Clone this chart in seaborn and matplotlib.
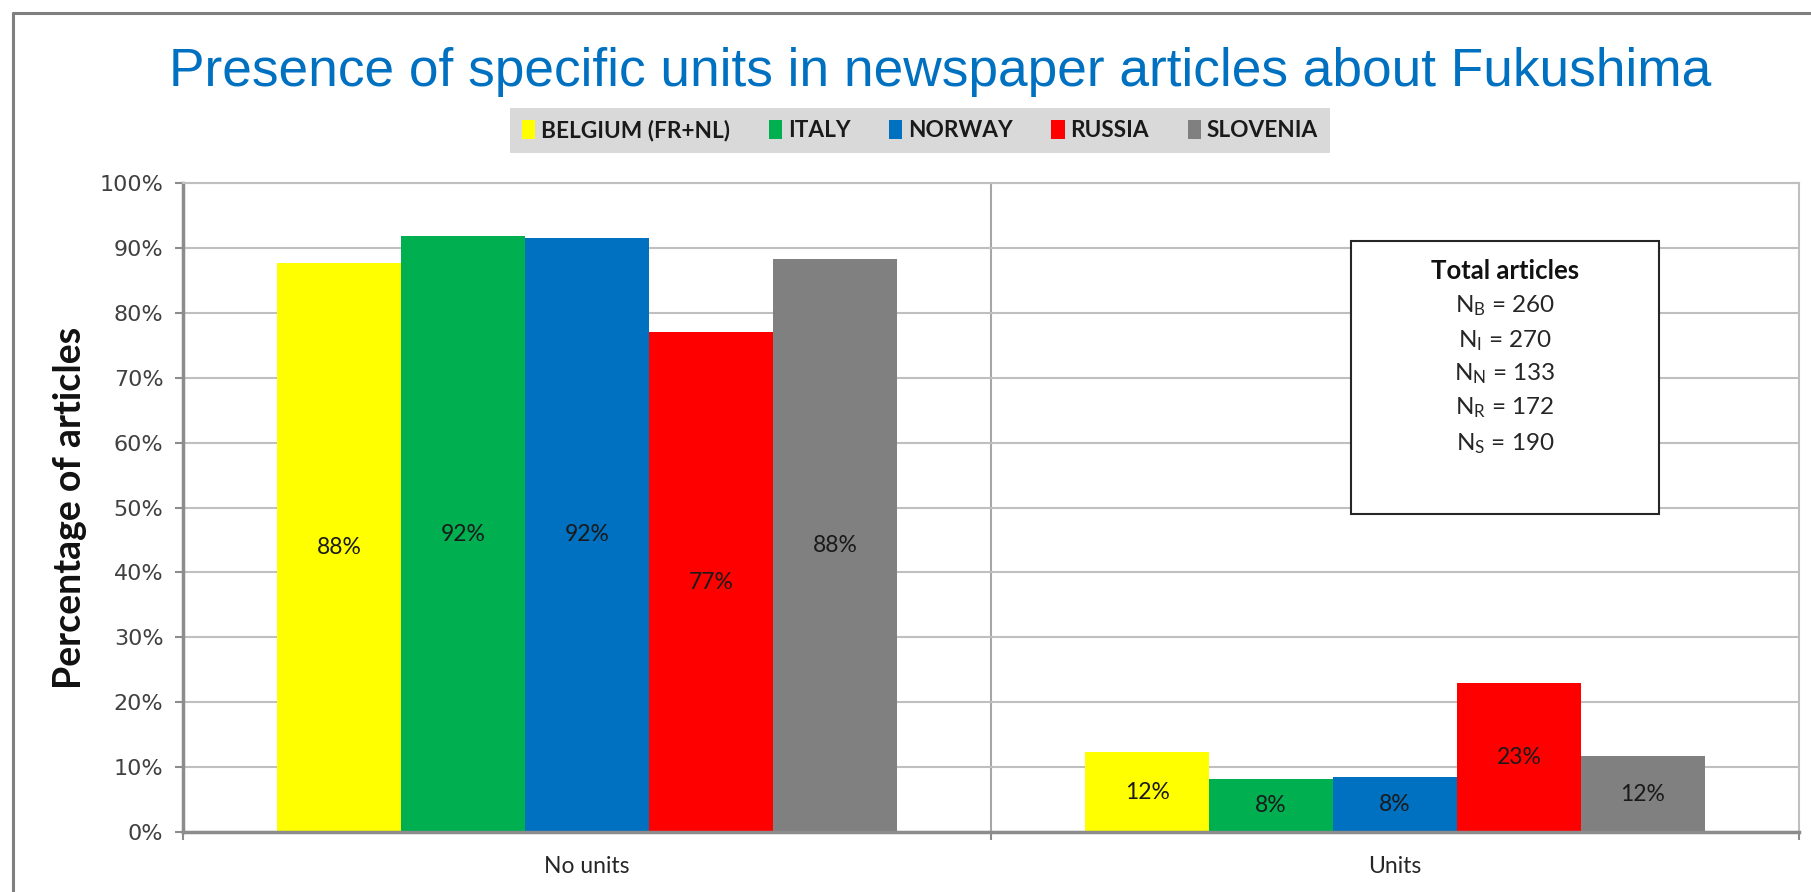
import matplotlib
matplotlib.use('Agg')
import matplotlib.pyplot as plt
import seaborn as sns
import pandas as pd
from matplotlib.patches import Patch, Rectangle
from matplotlib.lines import Line2D

# ---------------- data ----------------
categories = ['No units', 'Units']
countries = ['BELGIUM (FR+NL)', 'ITALY', 'NORWAY', 'RUSSIA', 'SLOVENIA']
no_units = [87.7, 91.8, 91.6, 77.0, 88.3]
units = [12.3, 8.2, 8.4, 23.0, 11.7]
labels_no_units = ['88%', '92%', '92%', '77%', '88%']
labels_units = ['12%', '8%', '8%', '23%', '12%']
colors = ['#ffff00', '#00b050', '#0070c0', '#ff0000', '#808080']
yticks = [0, 10, 20, 30, 40, 50, 60, 70, 80, 90, 100]
ytick_labels = ['0%', '10%', '20%', '30%', '40%', '50%', '60%', '70%', '80%', '90%', '100%']
total_keys = ['B', 'I', 'N', 'R', 'S']
total_values = [260, 270, 133, 172, 190]
title = 'Presence of specific units in newspaper articles about Fukushima'
ylabel = 'Percentage of articles'
box_title = 'Total articles'

rows = []
for i, c in enumerate(countries):
    rows.append({'category': categories[0], 'country': c, 'value': no_units[i]})
    rows.append({'category': categories[1], 'country': c, 'value': units[i]})
df = pd.DataFrame(rows)

# ---------------- style ----------------
sns.set_theme(style='white')
plt.rcParams['font.family'] = ['Lato', 'DejaVu Sans']
plt.rcParams['mathtext.fontset'] = 'custom'
plt.rcParams['mathtext.rm'] = 'Lato'
plt.rcParams['mathtext.it'] = 'Lato'

fig = plt.figure(figsize=(18.11, 8.92), dpi=100)
ax = fig.add_axes([0.1010, 0.0673, 0.8924, 0.7275])

sns.barplot(data=df, x='category', y='value', hue='country', order=categories,
            hue_order=countries, palette=colors, width=0.767, gap=0,
            saturation=1, errorbar=None, legend=False, linewidth=0, ax=ax)

for i, cont in enumerate(ax.containers):
    ax.bar_label(cont, labels=[labels_no_units[i], labels_units[i]],
                 label_type='center', fontsize=16.5, color='#1a1a1a',
                 family='Lato')

ax.set_xlim(-0.5, 1.5)
ax.set_ylim(0, 100)
ax.set_yticks(yticks)
ax.set_yticklabels(ytick_labels, family='DejaVu Sans', fontsize=16, color='#404040')
ax.set_xticks([0, 1])
ax.set_xticklabels(categories, fontsize=16.5, color='#262626')
ax.set_xticks([-0.5, 0.5, 1.5], minor=True)
ax.tick_params(axis='x', which='major', length=0, pad=17)
ax.tick_params(axis='x', which='minor', length=6, width=1.5, color='#8c8c8c', direction='out', bottom=True)
ax.tick_params(axis='y', which='major', length=6, width=1.5, color='#8c8c8c', direction='out', left=True, pad=8)
ax.set_xlabel('')
ax.set_ylabel(ylabel, fontsize=27, fontweight='bold', color='#111111')
ax.yaxis.set_label_coords(-0.0594, 0.5)

ax.yaxis.grid(True, color='#bfbfbf', linewidth=1.5)
ax.set_axisbelow(True)
ax.axvline(0.5, color='#a6a6a6', linewidth=1.5, zorder=0.5)
for side in ['left', 'bottom']:
    ax.spines[side].set_color('#8c8c8c')
    ax.spines[side].set_linewidth(2.5)
ax.spines['right'].set_color('#bfbfbf')
ax.spines['right'].set_linewidth(1.5)
ax.spines['top'].set_color('#bfbfbf')
ax.spines['top'].set_linewidth(1.5)

# Text box with totals
ax.add_patch(Rectangle((0.7228, 0.49), 0.1906, 0.4206, transform=ax.transAxes,
                       facecolor='white', edgecolor='#262626', linewidth=1.5, zorder=5))
bx = (0.7228 + 0.9134) / 2
ax.text(bx, 0.8645, box_title, transform=ax.transAxes, ha='center', va='center',
        fontsize=18.5, fontweight='bold', color='#111111', zorder=6)
ys = [0.8105, 0.7566, 0.7057, 0.6533, 0.5978]
for k, v, yy in zip(total_keys, total_values, ys):
    ax.text(bx, yy, r'N$_\mathregular{%s}$ = %d' % (k, v), transform=ax.transAxes,
            ha='center', va='center', fontsize=17.5, color='#262626', zorder=6)

# Legend
handles = [Patch(facecolor=c, edgecolor='none') for c in colors]
leg = fig.legend(handles, countries, ncol=5, loc='center', bbox_to_anchor=(0.508, 0.8537),
                 frameon=True, facecolor='#d9d9d9', edgecolor='none', fancybox=False,
                 framealpha=1, handlelength=0.6, handleheight=0.85, handletextpad=0.25,
                 columnspacing=1.7, borderpad=0.5, borderaxespad=0,
                 prop={'family': 'Lato', 'weight': 'bold', 'size': 16.3})
for t in leg.get_texts():
    t.set_color('#1a1a1a')

# Title
fig.text(0.519, 0.919, title, ha='center', va='center', fontsize=38.3,
         color='#0070c0', family='Liberation Sans')

# Outer frame (top and left borders)
fig.add_artist(Line2D([13 / 1811, 1.0], [1 - 13 / 892, 1 - 13 / 892], color='#7f7f7f', linewidth=2.2))
fig.add_artist(Line2D([13 / 1811, 13 / 1811], [0.0, 1 - 13 / 892], color='#7f7f7f', linewidth=2.2))

fig.savefig('out.png', dpi=100)
